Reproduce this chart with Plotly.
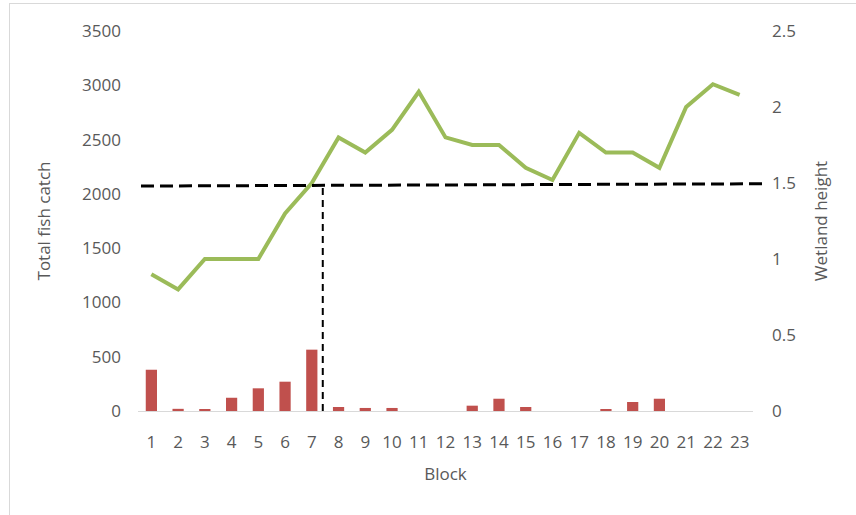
import plotly.graph_objects as go

blocks = list(range(1, 24))
fish_catch = [380, 20, 10, 122, 209, 270, 565, 37, 28, 28, 0, 0, 49, 113, 37, 0, 0, 10, 83, 113, 0, 0, 0]
wetland_height = [0.9, 0.8, 1.0, 1.0, 1.0, 1.3, 1.5, 1.8, 1.7, 1.85, 2.1, 1.8, 1.75, 1.75, 1.6, 1.52, 1.83, 1.7, 1.7, 1.6, 2.0, 2.15, 2.08]
left_ticks = [0, 500, 1000, 1500, 2000, 2500, 3000, 3500]
right_ticks = [0, 0.5, 1, 1.5, 2, 2.5]
threshold_height = 1.49
threshold_block = 7.41

W, H = 856, 515
ML, MR, MT, MB = 138, 103, 31, 104
PW, PH = W - ML - MR, H - MT - MB
Y2MAX = 2.5

def px_x(p):
    return (p - ML) / PW

def px_y(p):
    return (H - MB - p) / PH

txt = "#595959"
font = "Open Sans"

fig = go.Figure()
fig.add_trace(go.Bar(x=blocks, y=fish_catch, marker=dict(color="#C0504D", line=dict(width=0)),
                     width=0.42, yaxis="y", showlegend=False))
fig.add_trace(go.Scatter(x=blocks, y=wetland_height, mode="lines", line=dict(color="#9BBB59", width=4),
                         yaxis="y2", showlegend=False))

# threshold lines
fig.add_shape(type="line", xref="paper", yref="paper",
              x0=px_x(141), x1=px_x(765), y0=1.48 / Y2MAX, y1=1.495 / Y2MAX,
              line=dict(color="black", width=3, dash="13px,6px"))
fig.add_shape(type="line", xref="x", yref="y2", x0=threshold_block, x1=threshold_block, y0=0, y1=threshold_height,
              line=dict(color="black", width=2, dash="7px,5px"))
# frame border
fig.add_shape(type="line", xref="paper", yref="paper", x0=px_x(9.5), x1=px_x(9.5), y0=px_y(3), y1=px_y(H + 5),
              line=dict(color="#D9D9D9", width=1))
fig.add_shape(type="line", xref="paper", yref="paper", x0=px_x(9.5), x1=px_x(W + 5), y0=px_y(3.5), y1=px_y(3.5),
              line=dict(color="#D9D9D9", width=1))

fig.update_layout(
    width=W, height=H, margin=dict(l=ML, r=MR, t=MT, b=MB),
    paper_bgcolor="white", plot_bgcolor="white",
    font=dict(family=font, color=txt, size=17),
    xaxis=dict(range=[0.5, 23.5], tickmode="array", tickvals=blocks, ticktext=[str(b) for b in blocks],
               showgrid=False, showline=True, linecolor="#D9D9D9", linewidth=1, zeroline=False,
               ticks="", ticklabelstandoff=16,
               title=dict(text="Block", standoff=15, font=dict(size=17, color=txt))),
    yaxis=dict(range=[0, 3500], tickvals=left_ticks, showgrid=False, zeroline=False, showline=False,
               ticks="", ticklabelstandoff=16,
               title=dict(text="Total fish catch", standoff=27, font=dict(size=17, color=txt))),
    yaxis2=dict(range=[0, Y2MAX], tickvals=right_ticks, overlaying="y", side="right",
                showgrid=False, zeroline=False, showline=False, ticks="", ticklabelstandoff=18,
                title=dict(text="Wetland height", standoff=20, font=dict(size=17, color=txt))),
)

fig.write_html("out.html", config={"displayModeBar": False},
               post_script="document.body.style.margin='0';")
